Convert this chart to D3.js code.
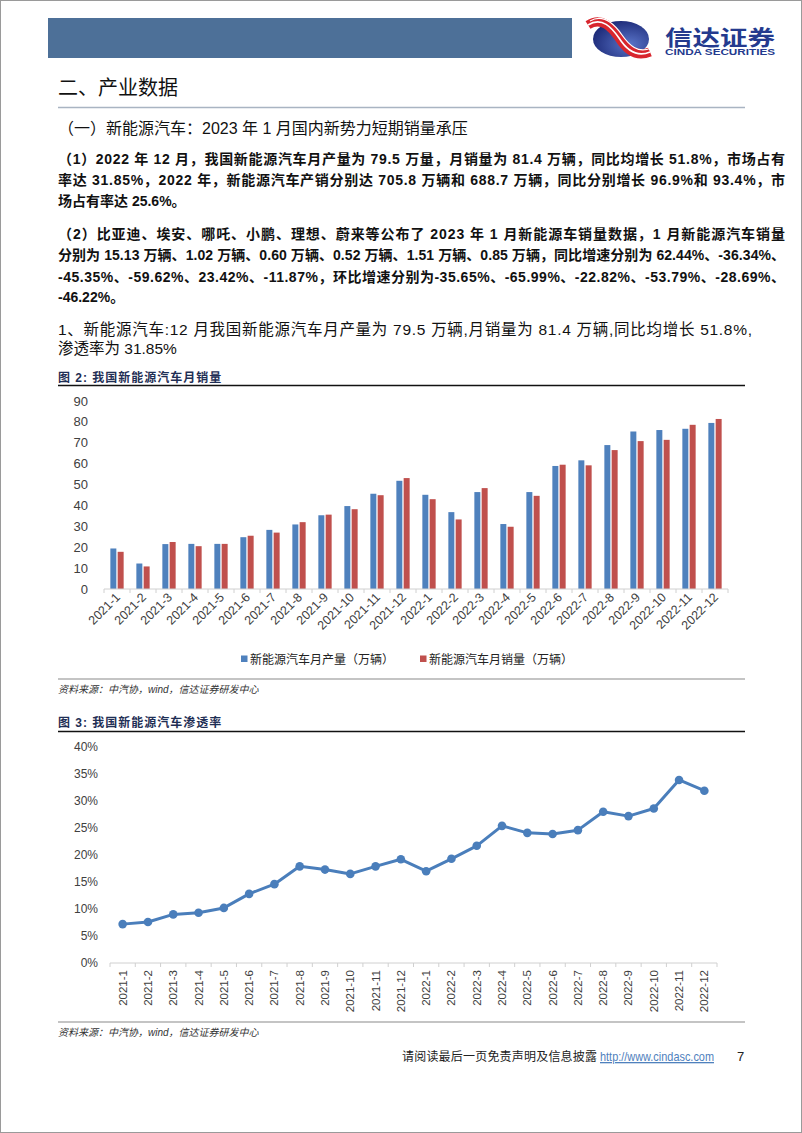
<!DOCTYPE html>
<html><head><meta charset="utf-8">
<script src="https://cdn.jsdelivr.net/npm/d3@7/dist/d3.min.js"></script>
<style>
html,body{margin:0;padding:0;background:#fff;}
svg{display:block;}
text{font-family:"Liberation Sans","Noto Sans CJK SC",sans-serif;}
</style></head>
<body>
<svg id="page" width="802" height="1133"></svg>
<script>
// ---------- data ----------
const months = ["2021-1","2021-2","2021-3","2021-4","2021-5","2021-6","2021-7","2021-8","2021-9","2021-10","2021-11","2021-12",
                "2022-1","2022-2","2022-3","2022-4","2022-5","2022-6","2022-7","2022-8","2022-9","2022-10","2022-11","2022-12"];
const production = [19.4,12.2,21.5,21.6,21.6,24.8,28.3,30.9,35.3,39.7,45.6,51.8,
                    45.1,36.8,46.4,31.1,46.4,58.9,61.6,68.9,75.4,76.1,76.7,79.5];
const sales      = [17.8,10.8,22.5,20.5,21.6,25.5,27.0,32.0,35.6,38.2,44.9,53.1,
                    43.0,33.3,48.3,29.8,44.6,59.5,59.2,66.5,70.8,71.4,78.6,81.4];
const penetration = [0.072,0.076,0.090,0.093,0.102,0.128,0.146,0.179,0.173,0.165,0.179,0.192,
                     0.170,0.193,0.217,0.254,0.241,0.239,0.246,0.280,0.272,0.286,0.339,0.319];
const barTicks = [0,10,20,30,40,50,60,70,80,90];
const lineTicks = [0,0.05,0.10,0.15,0.20,0.25,0.30,0.35,0.40];
const seriesNames = ["新能源汽车月产量（万辆）","新能源汽车月销量（万辆）"];
const seriesColors = ["#4F81BD","#C0504D"];

const svg = d3.select("#page");
const CJK = '"Noto Sans CJK SC",sans-serif';
const MIX = '"Liberation Sans","Noto Sans CJK SC",sans-serif';

// page border
svg.append("rect").attr("x",0.5).attr("y",0.5).attr("width",801).attr("height",1132)
  .attr("fill","none").attr("stroke","#9a9a9a").attr("stroke-width",1);

// ---------- header ----------
svg.append("rect").attr("x",48).attr("y",18).attr("width",524).attr("height",40).attr("fill","#4D7098");
const defs = svg.append("defs");
const rg = defs.append("radialGradient").attr("id","lg").attr("cx","65%").attr("cy","65%").attr("r","70%");
rg.append("stop").attr("offset","0%").attr("stop-color","#5a74c8");
rg.append("stop").attr("offset","100%").attr("stop-color","#1c2a78");
svg.append("ellipse").attr("cx",621).attr("cy",39).attr("rx",28).attr("ry",18).attr("fill","url(#lg)");
const swoosh = "M588,25 C602,16 612,28 619,38 C626,49 636,58 650,52";
svg.append("path").attr("d",swoosh).attr("fill","none").attr("stroke","#d8262e").attr("stroke-width",9);
svg.append("path").attr("d",swoosh).attr("fill","none").attr("stroke","#fff").attr("stroke-width",1.6);
svg.append("path").attr("d","M590,21 C604,13 615,25 622,35 C629,45 638,54 651,48").attr("fill","none").attr("stroke","#fff").attr("stroke-width",1.2);
svg.append("text").attr("x",665).attr("y",45).attr("font-family",CJK).attr("font-weight",700)
  .attr("font-size",21).attr("fill","#243a8e").attr("textLength",110).attr("lengthAdjust","spacingAndGlyphs").text("信达证券");
svg.append("text").attr("x",665).attr("y",55).attr("font-family",'"Liberation Sans",sans-serif').attr("font-weight",700)
  .attr("font-size",9).attr("fill","#243a8e").attr("textLength",110).attr("lengthAdjust","spacingAndGlyphs").text("CINDA SECURITIES");

// ---------- body text ----------
svg.append("text").attr("x",58).attr("y",95).attr("font-family",CJK).attr("font-size",20).attr("fill","#111").text("二、产业数据");
svg.append("line").attr("x1",58).attr("x2",745).attr("y1",107.5).attr("y2",107.5).attr("stroke","#a9b4c2").attr("stroke-width",1.5);
svg.append("text").attr("x",58).attr("y",134).attr("font-family",MIX).attr("font-size",16).attr("fill","#111")
  .text("（一）新能源汽车：2023 年 1 月国内新势力短期销量承压");

const para = [
  {t:"（1）2022 年 12 月，我国新能源汽车月产量为 79.5 万量，月销量为 81.4 万辆，同比均增长 51.8%，市场占有", y:164, full:true},
  {t:"率达 31.85%，2022 年，新能源汽车产销分别达 705.8 万辆和 688.7 万辆，同比分别增长 96.9%和 93.4%，市", y:185, full:true},
  {t:"场占有率达 25.6%。", y:206},
  {t:"（2）比亚迪、埃安、哪吒、小鹏、理想、蔚来等公布了 2023 年 1 月新能源车销量数据，1 月新能源汽车销量", y:239, full:true},
  {t:"分别为 15.13 万辆、1.02 万辆、0.60 万辆、0.52 万辆、1.51 万辆、0.85 万辆，同比增速分别为 62.44%、-36.34%、", y:260, full:true},
  {t:"-45.35%、-59.62%、23.42%、-11.87%，环比增速分别为-35.65%、-65.99%、-22.82%、-53.79%、-28.69%、", y:282, full:true},
  {t:"-46.22%。", y:302}
];
para.forEach(p=>{
  const el = svg.append("text").attr("x",58).attr("y",p.y).attr("font-family",MIX).attr("font-weight",700)
    .attr("font-size",14).attr("fill","#111").text(p.t);
  if(p.full) el.attr("textLength",727).attr("lengthAdjust","spacing");
});
svg.append("text").attr("x",58).attr("y",335).attr("font-family",MIX).attr("font-size",15.5).attr("fill","#111")
  .attr("textLength",694).attr("lengthAdjust","spacing")
  .text("1、新能源汽车:12 月我国新能源汽车月产量为 79.5 万辆,月销量为 81.4 万辆,同比均增长 51.8%,");
svg.append("text").attr("x",58).attr("y",354).attr("font-family",MIX).attr("font-size",15.5).attr("fill","#111")
  .text("渗透率为 31.85%");

// captions
function caption(y, t){
  svg.append("text").attr("x",58).attr("y",y).attr("font-family",CJK).attr("font-weight",700)
    .attr("font-size",12).attr("letter-spacing",1).attr("fill","#1f2f55").text(t);
}
caption(382,"图 2: 我国新能源汽车月销量");
svg.append("line").attr("x1",58).attr("x2",745).attr("y1",385.5).attr("y2",385.5).attr("stroke","#111").attr("stroke-width",1.5);
caption(727,"图 3: 我国新能源汽车渗透率");
svg.append("line").attr("x1",58).attr("x2",745).attr("y1",731.5).attr("y2",731.5).attr("stroke","#111").attr("stroke-width",1.5);

function source(lineY){
  svg.append("line").attr("x1",58).attr("x2",745).attr("y1",lineY).attr("y2",lineY).attr("stroke","#8a8a8a").attr("stroke-width",1.2);
  svg.append("text").attr("x",58).attr("y",lineY+14).attr("font-family",CJK).attr("font-style","italic")
    .attr("font-size",10).attr("fill","#333").text("资料来源：中汽协，wind，信达证券研发中心");
}
source(679);
source(1022);

// ---------- bar chart ----------
const LAB = 'Lato,"Open Sans",sans-serif';
const bx0 = d3.scaleBand().domain(months).range([104,728]).paddingInner(0).paddingOuter(0);
const bx1 = d3.scaleBand().domain([0,1]).range([0,bx0.bandwidth()]).paddingInner(0.18).paddingOuter(0.87);
const by = d3.scaleLinear().domain([0,90]).range([589,401]);

const bar = svg.append("g");
bar.selectAll("text.yl").data(barTicks).join("text").attr("class","yl")
  .attr("x",88).attr("y",d=>by(d)).attr("dy","0.35em").attr("text-anchor","end")
  .attr("font-family",LAB).attr("font-size",13).attr("fill","#404040").text(d=>d);

[production, sales].forEach((vals,si)=>{
  bar.selectAll("rect.s"+si).data(vals).join("rect").attr("class","s"+si)
    .attr("x",(d,i)=>bx0(months[i])+bx1(si)).attr("width",bx1.bandwidth())
    .attr("y",d=>by(d)).attr("height",d=>by(0)-by(d)).attr("fill",seriesColors[si]);
});
const bxAxis = bar.append("g").attr("transform","translate(0,589)");
bxAxis.append("line").attr("x1",104).attr("x2",728).attr("stroke","#d0d0d0").attr("stroke-width",1);
bxAxis.selectAll("line.tk").data(months.concat(["end"])).join("line").attr("class","tk")
  .attr("x1",(d,i)=>104+i*bx0.step()).attr("x2",(d,i)=>104+i*bx0.step()).attr("y1",0).attr("y2",4)
  .attr("stroke","#d0d0d0");
bar.selectAll("text.xl").data(months).join("text").attr("class","xl")
  .attr("text-anchor","end").attr("font-family",LAB).attr("font-size",12.5).attr("fill","#404040")
  .attr("transform",d=>`translate(${bx0(d)+bx0.bandwidth()/2+4},${598}) rotate(-45)`).text(d=>d);

// legend
const leg = svg.append("g");
[[241,0],[420,1]].forEach(([x,i])=>{
  leg.append("rect").attr("x",x).attr("y",655.5).attr("width",6.5).attr("height",6.5).attr("fill",seriesColors[i]);
  leg.append("text").attr("x",x+9).attr("y",663.5).attr("font-family",CJK).attr("font-size",12).attr("fill","#222").text(seriesNames[i]);
});

// ---------- line chart ----------
const OS = '"Open Sans",sans-serif';
const lx = d3.scaleBand().domain(months).range([110,717]).paddingInner(0).paddingOuter(0);
const ly = d3.scaleLinear().domain([0,0.4]).range([963,747]);
const lc = svg.append("g");
lc.selectAll("text.yl").data(lineTicks).join("text").attr("class","yl")
  .attr("x",98).attr("y",d=>ly(d)).attr("dy","0.35em").attr("text-anchor","end")
  .attr("font-family",OS).attr("font-size",12).attr("fill","#404040").text(d=>d3.format(".0%")(d));
const lxAxis = lc.append("g").attr("transform","translate(0,963)");
lxAxis.append("line").attr("x1",110).attr("x2",717).attr("stroke","#d0d0d0");
lxAxis.selectAll("line.tk").data(months.concat(["end"])).join("line").attr("class","tk")
  .attr("x1",(d,i)=>110+i*lx.step()).attr("x2",(d,i)=>110+i*lx.step()).attr("y1",0).attr("y2",4)
  .attr("stroke","#d0d0d0");
lc.selectAll("text.xl").data(months).join("text").attr("class","xl")
  .attr("text-anchor","end").attr("font-family",OS).attr("font-size",11.5).attr("fill","#404040")
  .attr("transform",d=>`translate(${lx(d)+lx.bandwidth()/2+4},${970}) rotate(-90)`).text(d=>d);
const line = d3.line().x((d,i)=>lx(months[i])+lx.bandwidth()/2).y(d=>ly(d));
lc.append("path").attr("d",line(penetration)).attr("fill","none").attr("stroke","#4A7EBB").attr("stroke-width",3).attr("stroke-linejoin","round");
lc.selectAll("circle").data(penetration).join("circle")
  .attr("cx",(d,i)=>lx(months[i])+lx.bandwidth()/2).attr("cy",d=>ly(d)).attr("r",4.3).attr("fill","#4A7EBB");

// ---------- footer ----------
svg.append("text").attr("x",402).attr("y",1061).attr("font-family",CJK).attr("font-size",12).attr("fill","#222")
  .attr("textLength",195).attr("lengthAdjust","spacing").text("请阅读最后一页免责声明及信息披露");
svg.append("text").attr("x",600).attr("y",1061).attr("font-family",'"Liberation Sans Narrow","Liberation Sans",sans-serif').attr("font-size",13)
  .attr("fill","#4F81BD").attr("text-decoration","underline").attr("textLength",114).attr("lengthAdjust","spacingAndGlyphs").text("http://www.cindasc.com");
svg.append("text").attr("x",737).attr("y",1061).attr("font-family",'"Liberation Sans",sans-serif').attr("font-size",13).attr("fill","#222").text("7");
</script>
</body></html>
